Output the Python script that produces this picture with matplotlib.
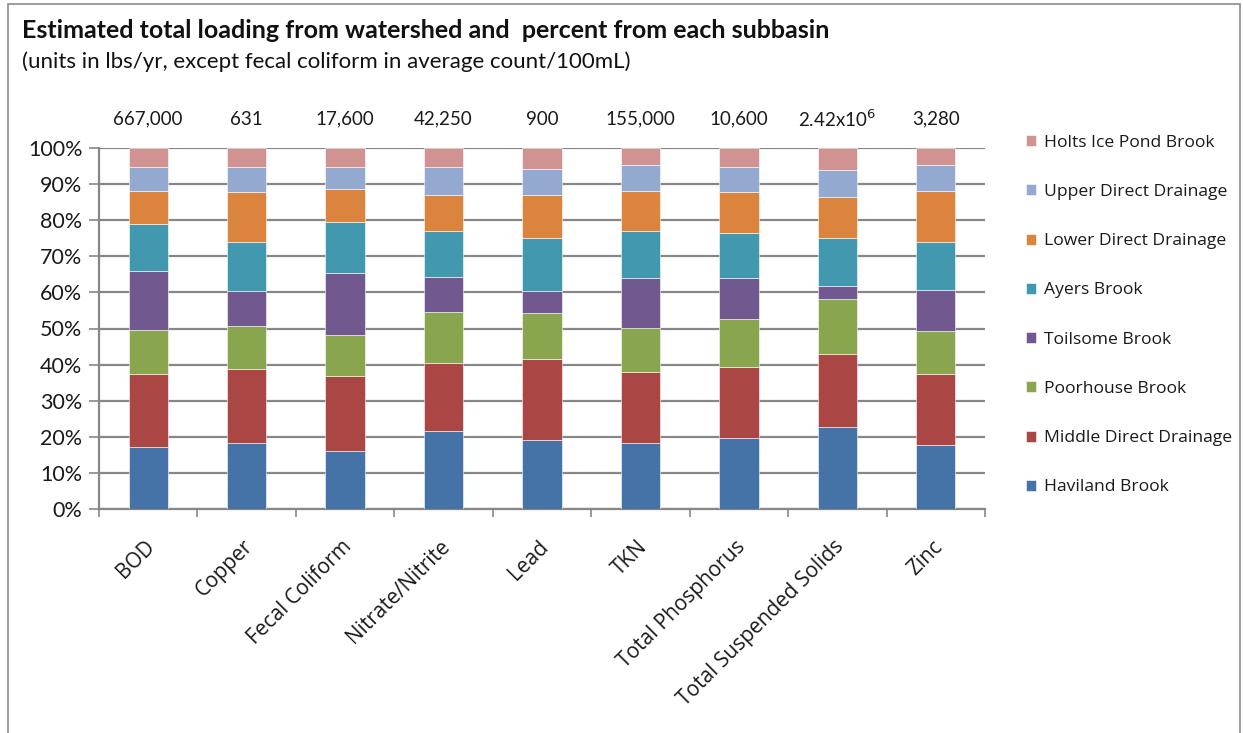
import matplotlib
matplotlib.use("Agg")
import matplotlib.pyplot as plt
from matplotlib.patches import Rectangle
import numpy as np

categories = ["BOD", "Copper", "Fecal Coliform", "Nitrate/Nitrite", "Lead", "TKN",
              "Total Phosphorus", "Total Suspended Solids", "Zinc"]
totals = ["667,000", "631", "17,600", "42,250", "900", "155,000", "10,600",
          "2.42x10$^{6}$", "3,280"]

haviland = [17.3, 18.3, 16.1, 21.7, 19.2, 18.3, 19.7, 22.8, 17.8]
middle_direct = [20.2, 20.6, 20.8, 18.8, 22.3, 19.7, 19.7, 20.2, 19.7]
poorhouse = [12.1, 11.8, 11.2, 14.1, 12.8, 12.1, 13.3, 15.3, 11.7]
toilsome = [16.3, 9.6, 17.3, 9.7, 6.0, 13.8, 11.2, 3.4, 11.6]
ayers = [13.1, 13.7, 14.2, 12.8, 14.7, 13.1, 12.5, 13.3, 13.2]
lower_direct = [9.2, 13.7, 9.1, 10.0, 12.1, 11.1, 11.3, 11.3, 14.1]
upper_direct = [6.6, 7.1, 6.1, 7.7, 7.1, 7.2, 7.0, 7.5, 7.1]
holts = [5.2, 5.2, 5.2, 5.2, 5.8, 4.7, 5.3, 6.2, 4.8]

series_names = ["Haviland Brook", "Middle Direct Drainage", "Poorhouse Brook",
                "Toilsome Brook", "Ayers Brook", "Lower Direct Drainage",
                "Upper Direct Drainage", "Holts Ice Pond Brook"]
series = [haviland, middle_direct, poorhouse, toilsome, ayers, lower_direct,
          upper_direct, holts]
colors = ["#4572A7", "#AA4643", "#89A54E", "#71588F", "#4198AF", "#DB843D",
          "#93A9CF", "#D19392"]

plt.rcParams['font.family'] = ['Lato', 'DejaVu Sans']
TXT = "#1a1a1a"

W, H = 1243, 733
fig = plt.figure(figsize=(W / 100, H / 100), dpi=100)

# outer chart border
fig.patches.append(Rectangle((8 / W, -0.05), (1240 - 8) / W, (H - 4) / H + 0.05,
                             transform=fig.transFigure, fill=False,
                             edgecolor="#8c8c8c", linewidth=1.2))

left, right, top, bottom = 99, 985, 148, 509
ax = fig.add_axes([left / W, 1 - bottom / H, (right - left) / W, (bottom - top) / H])

x = np.arange(len(categories))
bottoms = np.zeros(len(categories))
handles = []
for vals, name, c in zip(series, series_names, colors):
    v = np.array(vals, dtype=float)
    b = ax.bar(x, v, bottom=bottoms, width=0.40, color=c, label=name,
               edgecolor="white", linewidth=0.4, zorder=3)
    handles.append(b)
    bottoms = bottoms + v

ax.set_xlim(-0.5, len(categories) - 0.5)
ax.set_ylim(0, 100)
ax.set_yticks(np.arange(0, 101, 10))
ax.set_yticklabels([f"{t}%" for t in range(0, 101, 10)], fontsize=15.5, color=TXT)
ax.yaxis.grid(True, color="#878787", linewidth=1.6, zorder=0)
ax.set_axisbelow(True)
for s in ["top", "right"]:
    ax.spines[s].set_visible(False)
for s in ["left", "bottom"]:
    ax.spines[s].set_color("#878787")
    ax.spines[s].set_linewidth(1.6)
ax.tick_params(axis="y", length=7, color="#878787", width=1.2, pad=5)

ax.set_xticks(np.arange(-0.5, len(categories), 1.0))
ax.set_xticklabels([])
ax.tick_params(axis="x", length=6, color="#878787", width=1.2, direction="out")
for i, c in enumerate(categories):
    ax.text(i - 0.04, -7.5, c, rotation=45, ha="right", va="top",
            rotation_mode="anchor", fontsize=15, color=TXT,
            family=["Open Sans", "DejaVu Sans"])

for i, t in enumerate(totals):
    ax.text(i, 108, t, ha="center", va="center", fontsize=13.5, color=TXT)

fig.text(22 / W, 1 - 30 / H, "Estimated total loading from watershed and  percent from each subbasin",
         fontsize=18, fontweight="bold", ha="left", va="center", color="#111111")
fig.text(22 / W, 1 - 62 / H, "(units in lbs/yr, except fecal coliform in average count/100mL)",
         fontsize=16, ha="left", va="center", color="#111111")

leg = fig.legend(handles[::-1], series_names[::-1], loc="upper left",
                 bbox_to_anchor=(1010 / W, 1 - 119 / H), frameon=False,
                 prop={"family": ["Open Sans", "DejaVu Sans"], "size": 12.6},
                 handlelength=0.6, handleheight=0.6,
                 handletextpad=0.45, labelspacing=1.9, labelcolor=TXT)

fig.savefig("out.png", dpi=100)
